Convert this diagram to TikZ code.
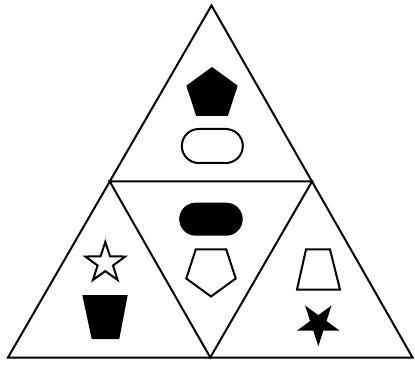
\documentclass[tikz,border=0pt]{standalone}
\usetikzlibrary{calc}
\tikzset{
  edge/.style={line width=2pt, line join=miter, black},
  outline/.style={line width=2pt, line join=miter, black, fill=white},
  solid shape/.style={fill=black, draw=none},
}
\begin{document}
\begin{tikzpicture}[x=1pt,y=-1pt]
\useasboundingbox (0,0) rectangle (415,366);
% vertices
\coordinate (A) at (211.5,5.5);
\coordinate (B) at (8,357.5);
\coordinate (C) at (412.5,357.5);
\coordinate (AB) at ($(A)!0.5!(B)$);
\coordinate (AC) at ($(A)!0.5!(C)$);
\coordinate (BC) at ($(B)!0.5!(C)$);
\draw[edge] (A) -- (B) -- (C) -- cycle;
\draw[edge] (AB) -- (AC) -- (BC) -- cycle;

% top triangle: filled pentagon
\coordinate (p1) at (212,94);
\fill[solid shape] ($(p1)+(-90:27)$) \foreach \k in {1,...,4} { -- ($(p1)+(-90+72*\k:27)$) } -- cycle;
% open stadium
\draw[outline, rounded corners=17pt] (181.8,129) rectangle (242.8,163);

% middle triangle: filled stadium
\fill[solid shape, rounded corners=16.5pt] (179.2,202.7) rectangle (242.7,235.7);
% open inverted pentagon
\coordinate (p2) at (211,270.5);
\draw[outline] ($(p2)+(90:26)$) \foreach \k in {1,...,4} { -- ($(p2)+(90+72*\k:26)$) } -- cycle;

% left triangle: open star
\coordinate (s1) at (105.3,263);
\draw[outline] ($(s1)+(-90:21)$) \foreach \k in {0,...,4} { -- ($(s1)+(-54+72*\k:8.1)$) -- ($(s1)+(-18+72*\k:21)$) } -- cycle;
% filled trapezoid
\fill[solid shape] (82.3,295) -- (127.7,295) -- (119.3,339) -- (91.7,339) -- cycle;

% right triangle: open trapezoid
\draw[outline] (306,249.5) -- (330,249.5) -- (340,289.5) -- (297,289.5) -- cycle;
% filled inverted star
\coordinate (s2) at (318.3,323.7);
\fill[solid shape] ($(s2)+(90:22.5)$) \foreach \k in {0,...,4} { -- ($(s2)+(126+72*\k:8.6)$) -- ($(s2)+(162+72*\k:22.5)$) } -- cycle;
\end{tikzpicture}
\end{document}
